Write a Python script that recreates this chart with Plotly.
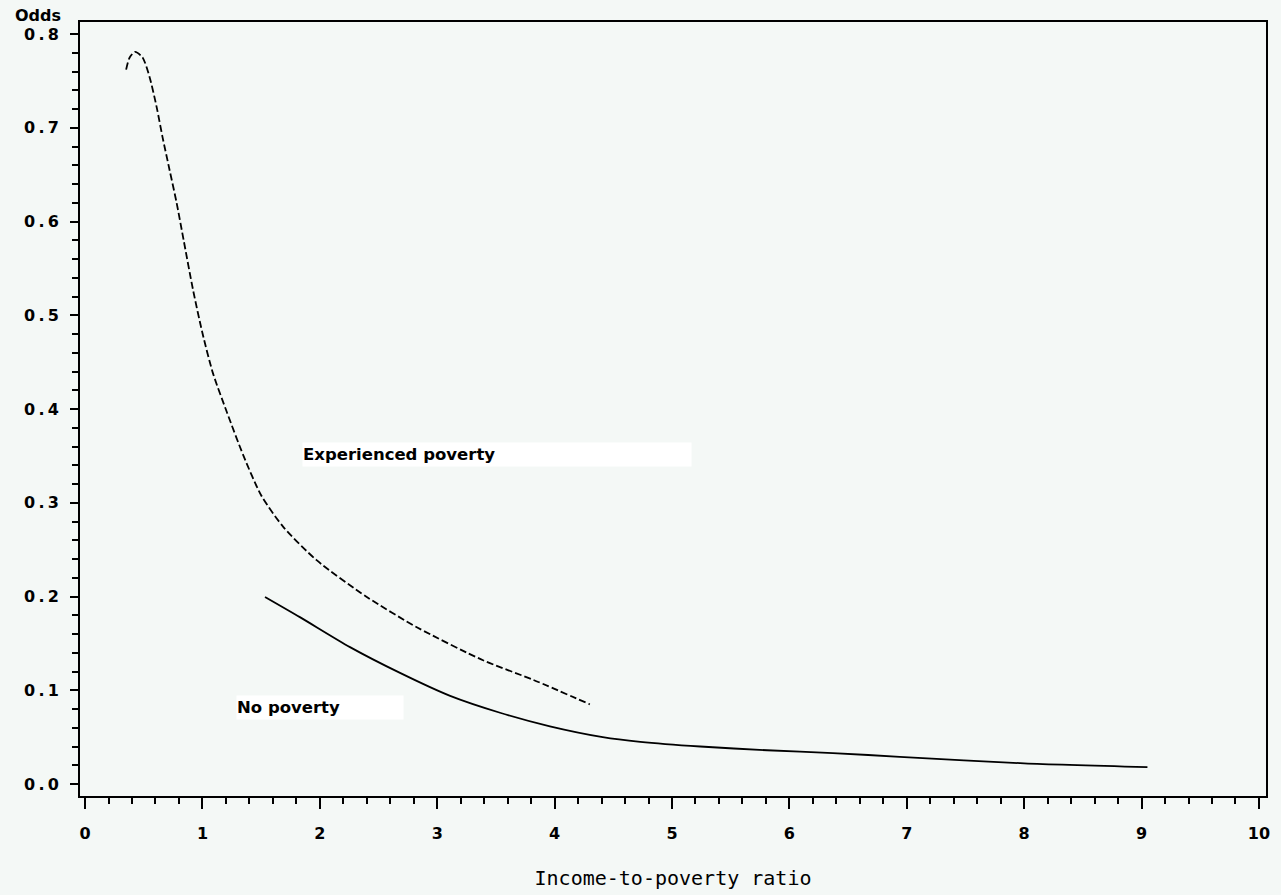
import plotly.graph_objects as go

# Experienced poverty (dashed)
exp_x = [0.35, 0.38, 0.426, 0.49, 0.55, 0.61, 0.66, 0.72, 0.78, 0.84, 0.92, 1.00, 1.09, 1.21, 1.35, 1.50, 1.69, 1.97, 2.40, 2.83, 3.39, 3.82, 4.30]
exp_y = [0.762, 0.775, 0.781, 0.775, 0.754, 0.722, 0.690, 0.655, 0.620, 0.580, 0.527, 0.481, 0.438, 0.396, 0.350, 0.308, 0.274, 0.239, 0.1995, 0.167, 0.132, 0.111, 0.085]

# No poverty (solid)
nop_x = [1.533, 1.83, 2.257, 2.683, 3.11, 3.535, 3.96, 4.41, 4.73, 5.24, 5.81, 6.37, 6.94, 8.00, 9.05]
nop_y = [0.1995, 0.178, 0.146, 0.1185, 0.094, 0.076, 0.0615, 0.050, 0.045, 0.040, 0.036, 0.033, 0.029, 0.022, 0.018]

x_ticks = [0, 1, 2, 3, 4, 5, 6, 7, 8, 9, 10]
x_tick_labels = ["0", "1", "2", "3", "4", "5", "6", "7", "8", "9", "10"]
y_ticks = [0.0, 0.1, 0.2, 0.3, 0.4, 0.5, 0.6, 0.7, 0.8]
y_tick_labels = ["0\u2009.\u20090", "0\u2009.\u20091", "0\u2009.\u20092", "0\u2009.\u20093", "0\u2009.\u20094",
                 "0\u2009.\u20095", "0\u2009.\u20096", "0\u2009.\u20097", "0\u2009.\u20098"]

BG = "#f4f8f6"
TICKFONT = dict(family="DejaVu Sans", size=16, color="black", weight="bold")

fig = go.Figure()
fig.add_trace(go.Scatter(x=exp_x, y=exp_y, mode="lines", name="Experienced poverty",
                         line=dict(color="black", width=1.8, dash="7px,3px", shape="spline", smoothing=0.7)))
fig.add_trace(go.Scatter(x=nop_x, y=nop_y, mode="lines", name="No poverty",
                         line=dict(color="black", width=1.8, shape="spline", smoothing=0.7)))

fig.update_layout(
    width=1281, height=895,
    margin=dict(l=80, r=15, t=22, b=99, autoexpand=False),
    paper_bgcolor=BG, plot_bgcolor=BG,
    showlegend=False,
    xaxis=dict(range=[-0.043, 10.06], tickvals=x_ticks, ticktext=x_tick_labels, showgrid=False, zeroline=False,
               automargin=False,
               showline=True, linecolor="black", linewidth=2, mirror=True,
               ticks="outside", ticklen=11, tickwidth=2, tickcolor="black", ticklabelstandoff=11,
               minor=dict(dtick=0.2, ticks="outside", ticklen=6, tickwidth=2, tickcolor="black", showgrid=False),
               tickfont=TICKFONT,
               title=dict(text="Income-to-poverty ratio", standoff=29,
                          font=dict(family="DejaVu Sans Mono", size=20, color="black"))),
    yaxis=dict(range=[-0.0128, 0.8128], tickvals=y_ticks, ticktext=y_tick_labels, showgrid=False, zeroline=False,
               automargin=False,
               showline=True, linecolor="black", linewidth=2, mirror=True,
               ticks="outside", ticklen=8, tickwidth=2, tickcolor="black", ticklabelstandoff=8,
               minor=dict(dtick=0.02, ticks="outside", ticklen=6, tickwidth=2, tickcolor="black", showgrid=False),
               tickfont=TICKFONT),
)

fig.add_annotation(xref="paper", yref="paper", x=-0.0565, y=1.008, xanchor="left", yanchor="middle",
                   text="Odds", showarrow=False,
                   font=dict(family="DejaVu Sans", size=16, color="black", weight="bold"))

fig.add_annotation(x=1.85, y=0.351, xref="x", yref="y", xanchor="left", yanchor="middle",
                   text="Experienced poverty", showarrow=False, align="left", width=388, height=23,
                   bgcolor="white", borderpad=0,
                   font=dict(family="DejaVu Sans", size=16.5, color="black", weight="bold"))
fig.add_annotation(x=1.29, y=0.082, xref="x", yref="y", xanchor="left", yanchor="middle",
                   text="No poverty", showarrow=False, align="left", width=166, height=23,
                   bgcolor="white", borderpad=0,
                   font=dict(family="DejaVu Sans", size=16.5, color="black", weight="bold"))

fig.write_html("out.html", config={"displayModeBar": False},
               post_script="document.body.style.margin='0';document.body.style.background='#f4f8f6';"
                           "document.documentElement.style.background='#f4f8f6';")
